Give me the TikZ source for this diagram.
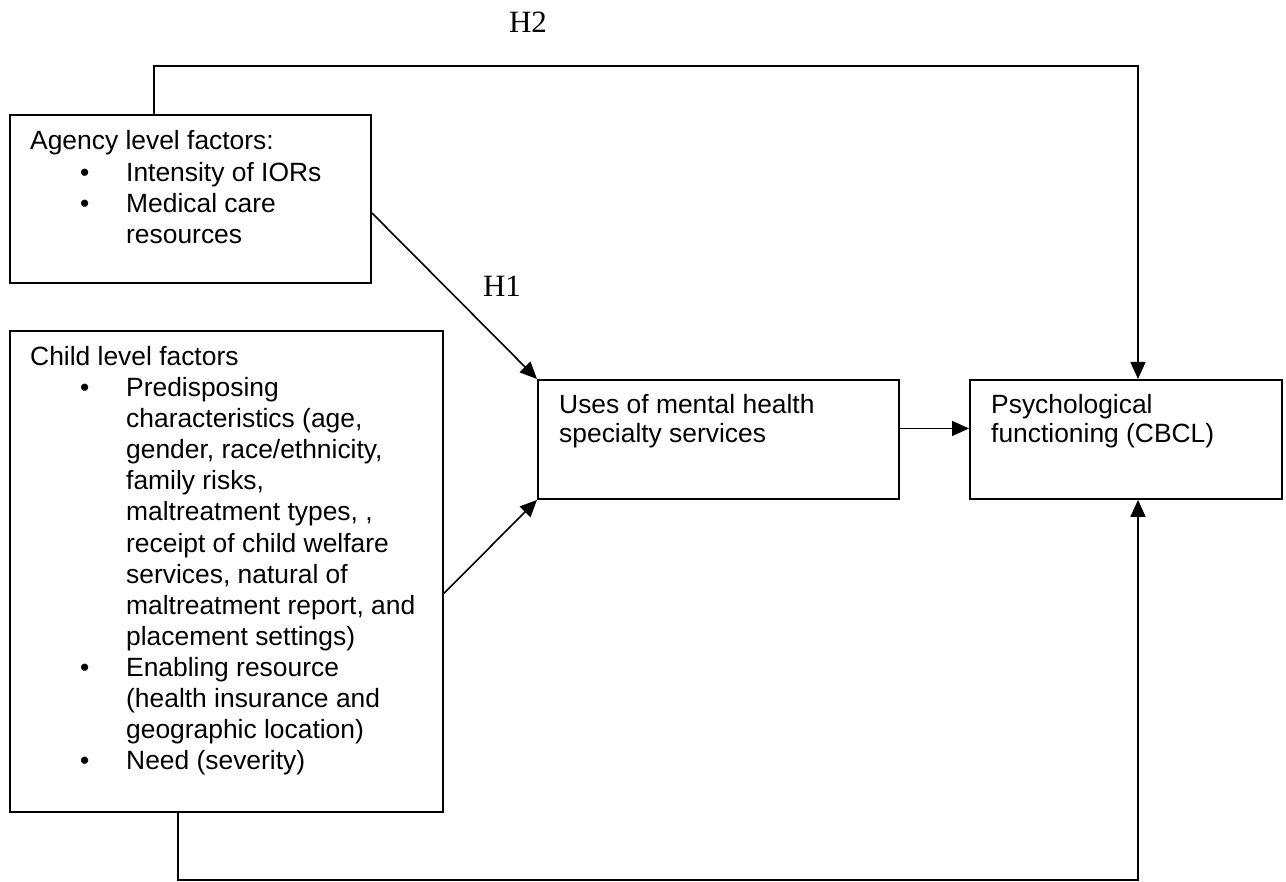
\documentclass[tikz,border=0pt]{standalone}
\usepackage{fontspec}
\setmainfont{Liberation Sans}
\newfontfamily\hfont{Liberation Serif}
\usetikzlibrary{arrows.meta}
\begin{document}
\begin{tikzpicture}[x=1pt,y=-1pt,
  box/.style={draw, line width=1.9pt, inner sep=0pt, anchor=north west},
  txt/.style={font=\fontsize{26.4}{31}\selectfont, anchor=base west, inner sep=0pt},
  hlab/.style={font=\hfont\fontsize{31}{36}\selectfont, anchor=base, inner sep=0pt},
  arr/.style={line width=1.6pt, -{Triangle[length=17pt,width=15pt]}}]
\useasboundingbox (0,0) rectangle (1286,882);

% boxes
\node[box, minimum width=361pt, minimum height=168pt] (agency) at (9,114) {};
\node[box, minimum width=433pt, minimum height=481pt] (child) at (9,330) {};
\node[box, minimum width=361pt, minimum height=119pt] (uses) at (537,379) {};
\node[box, minimum width=312pt, minimum height=119pt] (psych) at (969,379) {};

% agency text
\node[txt] (a0) at (30,150) {Agency level factors:};
\node[txt] (ab1) at (80,182) {\textbullet};
\node[txt] (a1) at (126,182) {Intensity of IORs};
\node[txt] (ab2) at (80,213) {\textbullet};
\node[txt] (a2) at (126,213) {Medical care};
\node[txt] (a3) at (126,244) {resources};

% child text
\node[txt] (c1) at (30,366) {Child level factors};
\node[txt] (cb1) at (80,397) {\textbullet};
\node[txt] (c2) at (126,397) {Predisposing};
\node[txt] (c3) at (126,428) {characteristics (age,};
\node[txt] (c4) at (126,459) {gender, race/ethnicity,};
\node[txt] (c5) at (126,490) {family risks,};
\node[txt] (c6) at (126,521) {maltreatment types, ,};
\node[txt] (c7) at (126,552) {receipt of child welfare};
\node[txt] (c8) at (126,583) {services, natural of};
\node[txt] (c9) at (126,614) {maltreatment report, and};
\node[txt] (c10) at (126,645) {placement settings)};
\node[txt] (cb2) at (80,676) {\textbullet};
\node[txt] (c11) at (126,676) {Enabling resource};
\node[txt] (c12) at (126,707) {(health insurance and};
\node[txt] (c13) at (126,738) {geographic location)};
\node[txt] (cb3) at (80,769) {\textbullet};
\node[txt] (c14) at (126,769) {Need (severity)};

% uses / psych text
\node[txt] (u1) at (559,414) {Uses of mental health};
\node[txt] (u2) at (559,443) {specialty services};
\node[txt] (p1) at (991,414) {Psychological};
\node[txt] (p2) at (991,443) {functioning (CBCL)};

% labels
\node[hlab] (h2) at (528,33) {H2};
\node[hlab] (h1) at (502,297) {H1};

% connectors
\coordinate (t1) at (154,66);
\coordinate (t2) at (1138,66);
\coordinate (b1) at (178,880);
\coordinate (b2) at (1138,880);
\draw[arr] (agency.north -| t1) -- (t1) -- (t2) -- (t2 |- psych.north);
\draw[arr] (child.south -| b1) -- (b1) -- (b2) -- (b2 |- psych.south);
\draw[arr] ([yshift=-14pt]agency.east) -- (uses.north west);
\draw[arr] ([yshift=-22pt]child.east) -- (uses.south west);
\draw[arr] ([yshift=11pt]uses.east) -- ([yshift=11pt]uses.east -| psych.west);
\end{tikzpicture}
\end{document}
